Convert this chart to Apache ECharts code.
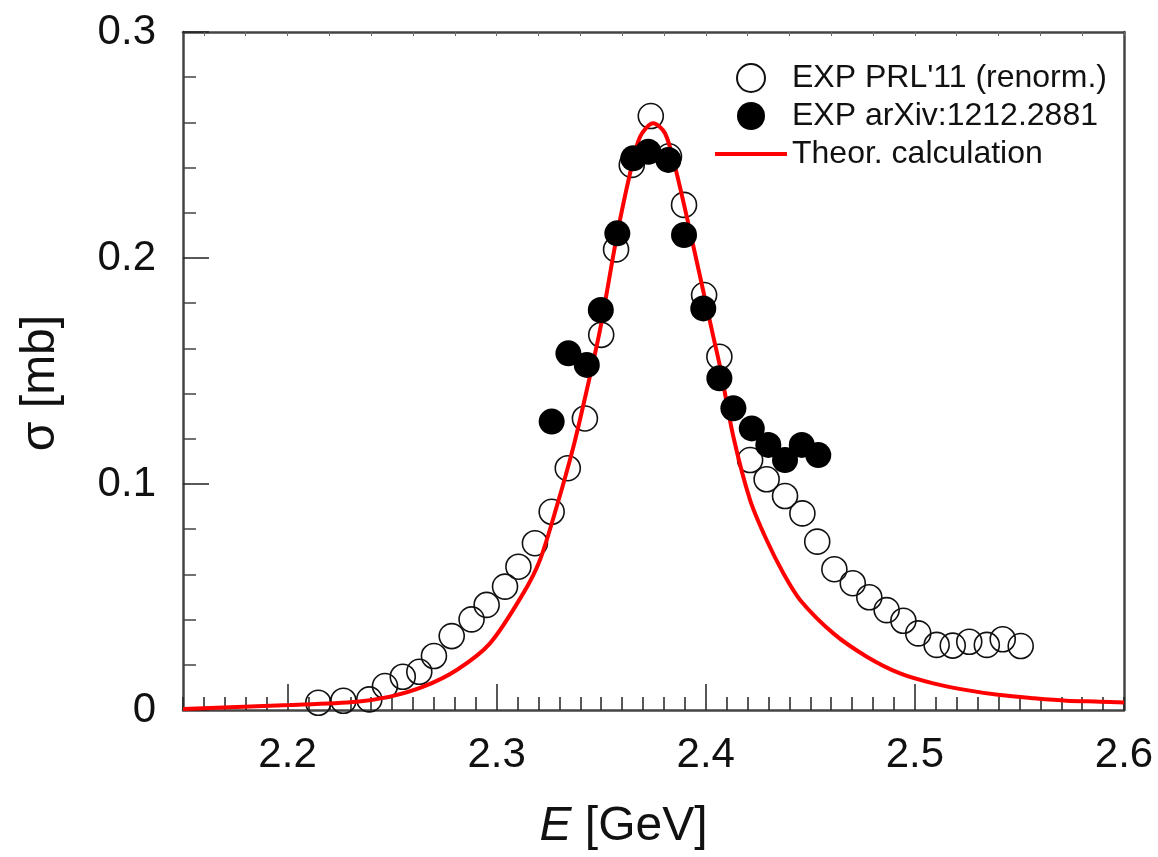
<!DOCTYPE html>
<html>
<head>
<meta charset="utf-8">
<script src="https://cdn.jsdelivr.net/npm/echarts@6/dist/echarts.min.js"></script>
<style>
html, body { margin: 0; padding: 0; background: #fff; }
#chart { width: 1158px; height: 857px; }
</style>
</head>
<body>
<div id="chart"></div>
<script>
// open circles, PRL'11 (renormalised)
const prlE = [2.2147, 2.2267, 2.2391, 2.2466, 2.2551, 2.263, 2.27, 2.2785, 2.288, 2.2952,
  2.304, 2.3104, 2.3183, 2.3263, 2.334, 2.3422, 2.35, 2.3571, 2.3646, 2.3737,
  2.3824, 2.3896, 2.3992, 2.4065, 2.4212, 2.4291, 2.4379, 2.4462, 2.4533, 2.4615,
  2.4703, 2.4782, 2.4865, 2.4945, 2.5016, 2.5104, 2.5181, 2.526, 2.5344, 2.542, 2.5506]
const prlSigma = [0.0032, 0.0041, 0.0047, 0.0106, 0.0147, 0.0169, 0.0239, 0.0327, 0.0401, 0.0465,
  0.0546, 0.0634, 0.0738, 0.0877, 0.107, 0.129, 0.166, 0.2038, 0.2412, 0.2628,
  0.245, 0.2235, 0.1836, 0.1563, 0.1106, 0.1021, 0.0947, 0.087, 0.0745, 0.0623,
  0.0561, 0.0499, 0.0442, 0.0395, 0.0339, 0.0288, 0.0285, 0.0302, 0.0288, 0.0313, 0.0283]

// filled circles, arXiv:1212.2881
const arxE = [2.3263, 2.3343, 2.3431, 2.3498, 2.3577, 2.3653, 2.3725, 2.3821, 2.3896,
  2.3988, 2.4065, 2.4132, 2.422, 2.4299, 2.4379, 2.4459, 2.4538]
const arxSigma = [0.1276, 0.1578, 0.1527, 0.177, 0.2109, 0.2441, 0.247, 0.2434, 0.2102,
  0.1777, 0.1468, 0.1335, 0.1246, 0.1173, 0.1106, 0.1173, 0.1128]

// red curve
const theoE = [2.15, 2.2012, 2.2331, 2.249, 2.2649, 2.2809, 2.2968, 2.3127, 2.3207, 2.3287,
  2.3367, 2.3431, 2.3494, 2.3574, 2.3638, 2.3686, 2.3749, 2.3805, 2.3853, 2.3909,
  2.3973, 2.4036, 2.4068, 2.4132, 2.4212, 2.4291, 2.4371, 2.4451, 2.461, 2.477,
  2.4929, 2.5088, 2.5248, 2.5407, 2.5567, 2.5726, 2.5885, 2.6]
const theoSigma = [0.0004, 0.0022, 0.0037, 0.0059, 0.0103, 0.0177, 0.0295, 0.0516, 0.0664, 0.09,
  0.1165, 0.1416, 0.1681, 0.2094, 0.2375, 0.2537, 0.2596, 0.2552, 0.2404, 0.2183,
  0.1917, 0.1652, 0.1519, 0.1209, 0.0929, 0.0752, 0.0605, 0.0487, 0.0339, 0.0236,
  0.0162, 0.0118, 0.0088, 0.0066, 0.0052, 0.0041, 0.0037, 0.0033]

const xLabels = [2.2, 2.3, 2.4, 2.5, 2.6]
const yLabels = [0, 0.1, 0.2, 0.3]

const font = 'Arial, "Liberation Sans", sans-serif'
const axisColor = '#444'

const chart = echarts.init(document.getElementById('chart'))

// top axis small ticks every 0.02
const topTicks = []
for (let i = 0; i <= 22; i++) topTicks.push(+(2.16 + i * 0.02).toFixed(2))

const option = {
  animation: false,
  backgroundColor: '#fff',
  grid: { left: 183, right: 34, top: 32, bottom: 147, containLabel: false, outerBoundsMode: 'none' },
  legend: {
    orient: 'vertical',
    left: 708,
    top: 57,
    itemWidth: 72,
    itemHeight: 28,
    itemGap: 6,
    textStyle: { fontFamily: font, fontSize: 32, color: '#111' },
    data: [
      { name: "EXP PRL'11 (renorm.)" },
      { name: 'EXP arXiv:1212.2881' },
      { name: 'Theor. calculation', itemStyle: { opacity: 0 }, lineStyle: { width: 4, color: '#f00' } }
    ]
  },
  xAxis: [
    {
      type: 'value', position: 'bottom', min: 2.15, max: 2.6,
      axisLine: { show: true, onZero: false, lineStyle: { color: axisColor, width: 2.5 } },
      axisTick: { show: true, inside: true, length: 26, customValues: [2.2, 2.3, 2.4, 2.5],
        lineStyle: { color: '#222', width: 1.5 } },
      axisLabel: { show: true, customValues: xLabels, margin: 24,
        fontFamily: font, fontSize: 42, color: '#111' },
      splitLine: { show: false },
      name: '{i|E} [GeV]',
      nameLocation: 'middle',
      nameGap: 93,
      nameTextStyle: {
        fontFamily: font, fontSize: 48, color: '#111', padding: [0, 60, 0, 0],
        rich: { i: { fontFamily: font, fontSize: 48, fontStyle: 'italic', color: '#111' } }
      }
    },
    {
      type: 'value', position: 'bottom', min: 2.15, max: 2.6, interval: 0.01,
      axisLine: { show: false, onZero: false },
      axisTick: { show: true, inside: true, length: 13, lineStyle: { color: '#222', width: 1.5 } },
      axisLabel: { show: false },
      splitLine: { show: false }
    },
    {
      type: 'value', position: 'top', min: 2.15, max: 2.6,
      axisLine: { show: true, onZero: false, lineStyle: { color: axisColor, width: 2.5 } },
      axisTick: { show: true, inside: true, length: 4, customValues: topTicks,
        lineStyle: { color: '#666', width: 1 } },
      axisLabel: { show: false },
      splitLine: { show: false }
    }
  ],
  yAxis: [
    {
      type: 'value', position: 'left', min: 0, max: 0.3, interval: 0.1,
      axisLine: { show: true, onZero: false, lineStyle: { color: axisColor, width: 2.5 } },
      axisTick: { show: true, inside: true, length: 26, lineStyle: { color: '#222', width: 1.5 } },
      minorTick: { show: true, splitNumber: 5, length: 13, lineStyle: { color: '#444', width: 1.5 } },
      axisLabel: { margin: 27, fontFamily: font, fontSize: 42, color: '#111',
        customValues: yLabels, formatter: v => String(v) },
      splitLine: { show: false },
      minorSplitLine: { show: false },
      name: 'σ [mb]',
      nameLocation: 'middle',
      nameRotate: 90,
      nameGap: 118,
      nameTextStyle: { fontFamily: font, fontSize: 48, color: '#111', padding: [0, 24, 0, 0] }
    },
    {
      type: 'value', position: 'right', min: 0, max: 0.3,
      axisLine: { show: true, onZero: false, lineStyle: { color: axisColor, width: 2.5 } },
      axisTick: { show: false },
      axisLabel: { show: false },
      splitLine: { show: false }
    }
  ],
  series: [
    {
      name: "EXP PRL'11 (renorm.)",
      type: 'scatter',
      xAxisIndex: 0, yAxisIndex: 0,
      symbol: 'circle',
      symbolSize: 25,
      z: 2,
      itemStyle: { color: 'rgba(255,255,255,0)', borderColor: '#111', borderWidth: 1.6, opacity: 1 },
      data: prlE.map((e, i) => [e, prlSigma[i]])
    },
    {
      name: 'Theor. calculation',
      type: 'line',
      xAxisIndex: 0, yAxisIndex: 0,
      symbol: 'none',
      smooth: 0.3,
      z: 3,
      lineStyle: { color: '#f00', width: 4 },
      itemStyle: { color: '#f00' },
      data: theoE.map((e, i) => [e, theoSigma[i]])
    },
    {
      name: 'EXP arXiv:1212.2881',
      type: 'scatter',
      xAxisIndex: 0, yAxisIndex: 0,
      symbol: 'circle',
      symbolSize: 26,
      z: 4,
      itemStyle: { color: '#000', borderColor: '#000', borderWidth: 0, opacity: 1 },
      data: arxE.map((e, i) => [e, arxSigma[i]])
    }
  ]
}
chart.setOption(option)
</script>
</body>
</html>
